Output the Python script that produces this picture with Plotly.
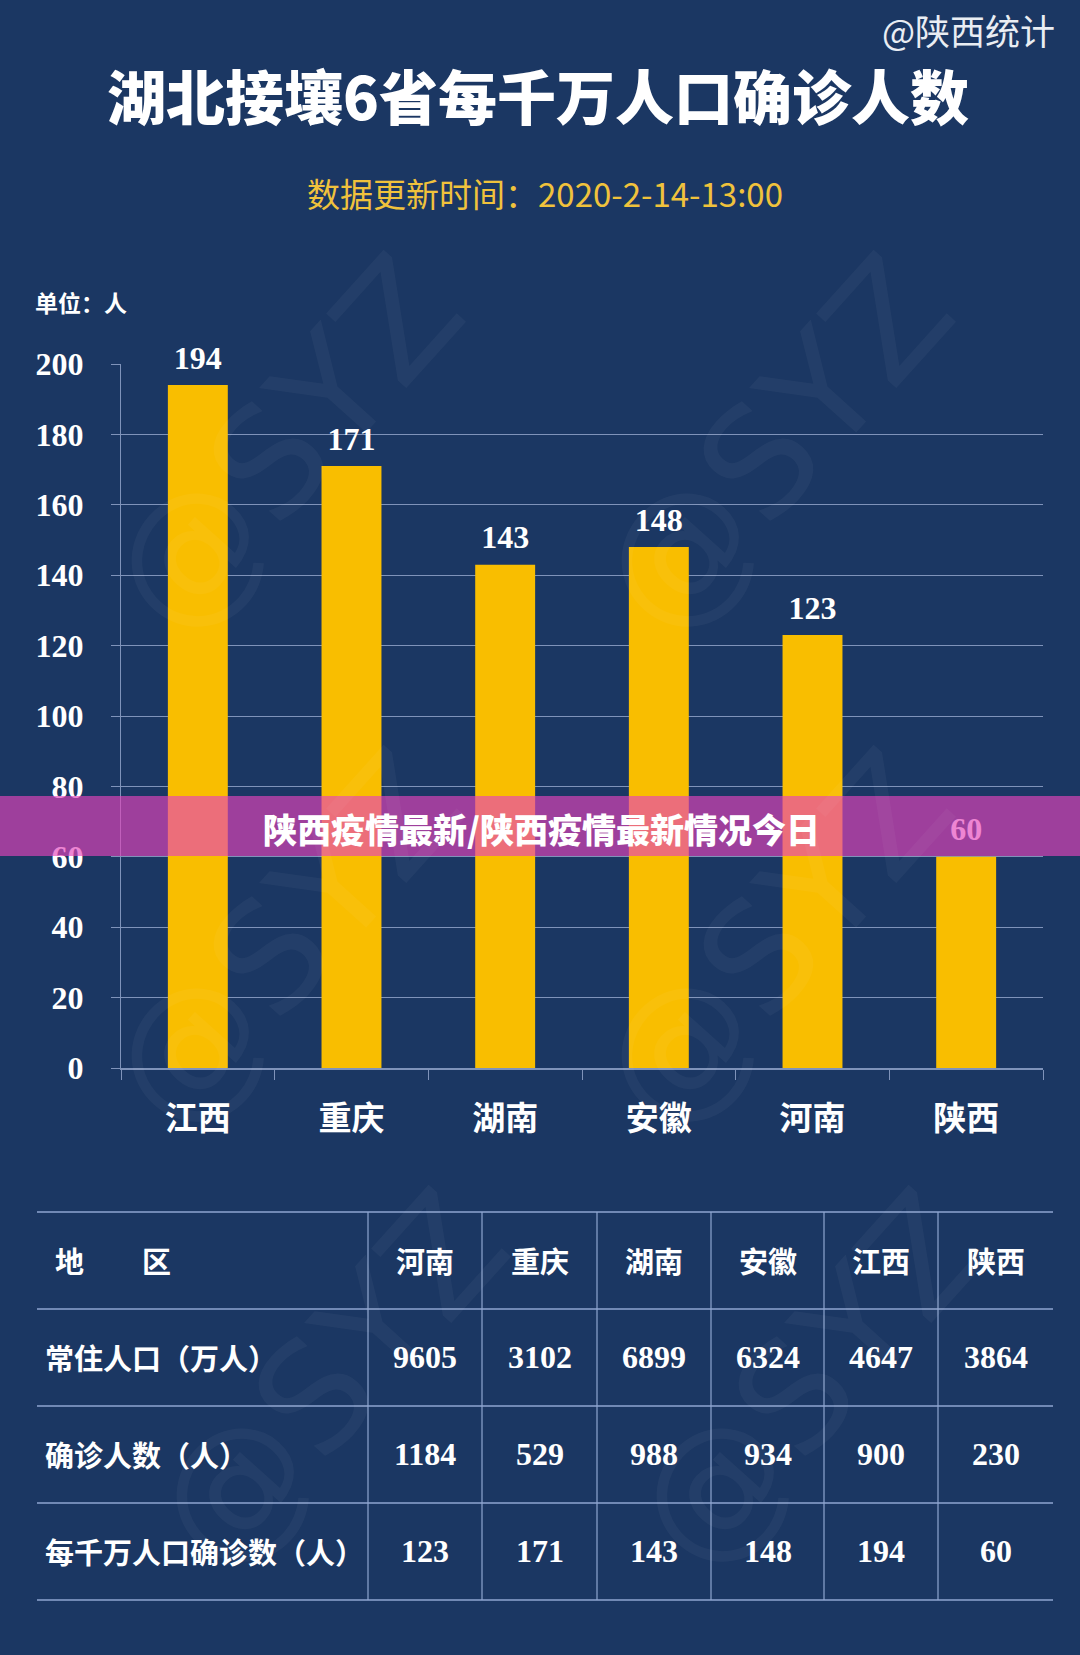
import plotly.graph_objects as go

# ---------------- data ----------------
chart_regions = ["江西", "重庆", "湖南", "安徽", "河南", "陕西"]
cases_per_10m = [194, 171, 143, 148, 123, 60]
y_ticks = [0, 20, 40, 60, 80, 100, 120, 140, 160, 180, 200]

table_regions = ["河南", "重庆", "湖南", "安徽", "江西", "陕西"]
table_population = [9605, 3102, 6899, 6324, 4647, 3864]
table_confirmed = [1184, 529, 988, 934, 900, 230]
table_per_10m = [123, 171, 143, 148, 194, 60]
table_row_labels = ["常住人口（万人）", "确诊人数（人）", "每千万人口确诊数（人）"]
table_header_label = "地　　区"

title_text = "湖北接壤6省每千万人口确诊人数"
subtitle_text = "数据更新时间：2020-2-14-13:00"
source_text = "@陕西统计"
unit_text = "单位：人"
banner_text = "陕西疫情最新/陕西疫情最新情况今日"

# ---------------- style / layout ----------------
W, H = 1080, 1655
BG = "#1B3763"
BAR = "#F9BE00"
GRID = "#7F93BA"
GOLD = "#F0C23C"
CJK = "Noto Sans CJK SC"


def px(x):
    return x / W


def py(y):
    return 1 - y / H


fig = go.Figure()

fig.add_trace(go.Bar(
    x=chart_regions, y=cases_per_10m,
    marker=dict(color=BAR, line=dict(width=0)),
    width=0.39,
    hoverinfo="skip",
))

# value labels above the bars (invisible markers give the label offset)
fig.add_trace(go.Scatter(
    x=chart_regions, y=cases_per_10m,
    mode="markers+text",
    marker=dict(size=12, opacity=0),
    text=[str(v) for v in cases_per_10m],
    textposition="top center",
    textfont=dict(family="Liberation Serif", size=32, color="white", weight="bold"),
    cliponaxis=False,
    hoverinfo="skip",
))

annotations = []

# watermarks (faint)
for (wx, wy) in [(285, 445), (775, 445), (285, 940), (775, 940), (330, 1380), (810, 1380)]:
    annotations.append(dict(
        x=px(wx), y=py(wy), xref="paper", yref="paper", text="@SYZ",
        showarrow=False, textangle=-48,
        font=dict(family="DejaVu Sans", size=150, color="rgba(255,255,255,0.04)"),
        xanchor="center", yanchor="middle"))

annotations += [
    dict(x=px(538), y=py(94), xref="paper", yref="paper", text=title_text,
         showarrow=False, xanchor="center", yanchor="middle",
         font=dict(family=CJK, size=59, color="white", weight=900)),
    dict(x=px(545), y=py(193), xref="paper", yref="paper", text=subtitle_text,
         showarrow=False, xanchor="center", yanchor="middle",
         font=dict(family=CJK, size=33, color=GOLD)),
    dict(x=px(1057), y=py(30), xref="paper", yref="paper", text=source_text,
         showarrow=False, xanchor="right", yanchor="middle",
         font=dict(family=CJK, size=35, color="#E9EDF3")),
    dict(x=px(33), y=py(302), xref="paper", yref="paper", text=unit_text,
         showarrow=False, xanchor="left", yanchor="middle",
         font=dict(family=CJK, size=23, color="white", weight="bold")),
    dict(x=px(541), y=py(828), xref="paper", yref="paper", text=banner_text,
         showarrow=False, xanchor="center", yanchor="middle",
         font=dict(family=CJK, size=34, color="white", weight=900)),
]

# ---------------- table ----------------
col_edges = [37, 368, 482, 597, 711, 824, 938, 1053]
row_edges = [1212, 1309, 1406, 1503, 1600]
col_centers = [(col_edges[i] + col_edges[i + 1]) / 2 for i in range(1, len(col_edges) - 1)]
row_centers = [(row_edges[i] + row_edges[i + 1]) / 2 - 1 for i in range(len(row_edges) - 1)]

shapes = []
for ry in row_edges:
    shapes.append(dict(type="line", xref="paper", yref="paper",
                       x0=px(col_edges[0]), x1=px(col_edges[-1]), y0=py(ry), y1=py(ry),
                       line=dict(color="#8FA6D0", width=1.6), layer="below"))
for cx in col_edges[1:-1]:
    shapes.append(dict(type="line", xref="paper", yref="paper",
                       x0=px(cx), x1=px(cx), y0=py(row_edges[0]), y1=py(row_edges[-1]),
                       line=dict(color="#8FA6D0", width=1.2), layer="below"))

annotations.append(dict(x=px(53), y=py(row_centers[0]), xref="paper", yref="paper",
                        text=table_header_label, showarrow=False, xanchor="left", yanchor="middle",
                        font=dict(family=CJK, size=29, color="white", weight="bold")))
for i, name in enumerate(table_regions):
    annotations.append(dict(x=px(col_centers[i]), y=py(row_centers[0]), xref="paper", yref="paper",
                            text=name, showarrow=False, xanchor="center", yanchor="middle",
                            font=dict(family=CJK, size=29, color="white", weight="bold")))

table_rows = [table_population, table_confirmed, table_per_10m]
for r, (label, vals) in enumerate(zip(table_row_labels, table_rows)):
    yc = py(row_centers[r + 1])
    annotations.append(dict(x=px(43), y=yc, xref="paper", yref="paper",
                            text=label, showarrow=False, xanchor="left", yanchor="middle",
                            font=dict(family=CJK, size=29, color="white", weight="bold")))
    for i, v in enumerate(vals):
        annotations.append(dict(x=px(col_centers[i]), y=yc, xref="paper", yref="paper",
                                text=str(v), showarrow=False, xanchor="center", yanchor="middle",
                                font=dict(family="Liberation Serif", size=32, color="white", weight="bold")))

# banner overlay
shapes.append(dict(type="rect", xref="paper", yref="paper",
                   x0=0, x1=1, y0=py(856), y1=py(796),
                   fillcolor="rgba(229,67,187,0.65)", line=dict(width=0), layer="above"))

fig.update_layout(
    width=W, height=H,
    margin=dict(l=0, r=0, t=0, b=0, pad=0, autoexpand=False),
    paper_bgcolor=BG, plot_bgcolor=BG,
    showlegend=False,
    annotations=annotations,
    shapes=shapes,
    xaxis=dict(
        domain=[px(121), px(1043)],
        type="category",
        automargin=False,
        showline=True, linecolor=GRID, linewidth=1.5,
        ticks="outside", tickson="boundaries", ticklen=10, tickcolor=GRID, tickwidth=1,
        showgrid=False,
        tickfont=dict(family=CJK, size=33, color="white", weight="bold"),
        ticklabelstandoff=21,
    ),
    yaxis=dict(
        domain=[py(1068), py(364)],
        range=[0, 200],
        automargin=False,
        tickvals=y_ticks,
        showline=True, linecolor=GRID, linewidth=1,
        ticks="outside", ticklen=9, tickcolor=GRID,
        showgrid=True, gridcolor=GRID, gridwidth=1,
        zeroline=False,
        tickfont=dict(family="Liberation Serif", size=32, color="white", weight="bold"),
        ticklabelstandoff=21,
    ),
)

fig.write_html("out.html")
